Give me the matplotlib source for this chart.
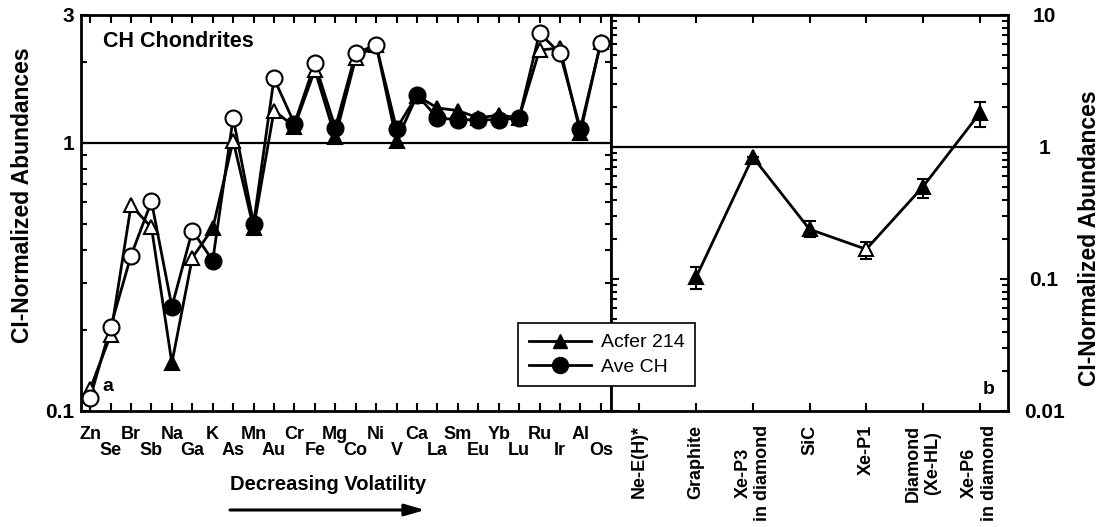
import matplotlib.pyplot as plt
import numpy as np
from matplotlib.lines import Line2D
from matplotlib.ticker import FixedLocator, NullFormatter

plt.rcParams['font.family'] = ['Liberation Sans', 'DejaVu Sans']

# panel a: CH chondrites, CI-normalized
elements = ['Zn', 'Se', 'Br', 'Sb', 'Na', 'Ga', 'K', 'As', 'Mn', 'Au', 'Cr', 'Fe', 'Mg',
            'Co', 'Ni', 'V', 'Ca', 'La', 'Sm', 'Eu', 'Yb', 'Lu', 'Ru', 'Ir', 'Al', 'Os']
acfer214 = [0.121, 0.192, 0.585, 0.484, 0.151, 0.373, 0.48, 1.02, 0.48, 1.32, 1.15, 1.87, 1.05,
            2.07, 2.32, 1.02, 1.50, 1.35, 1.32, 1.24, 1.27, 1.24, 2.22, 2.26, 1.09, 2.38]
ave_ch = [0.112, 0.206, 0.38, 0.605, 0.245, 0.471, 0.364, 1.24, 0.50, 1.74, 1.18, 1.98, 1.14,
          2.16, 2.32, 1.13, 1.51, 1.24, 1.22, 1.22, 1.22, 1.24, 2.57, 2.16, 1.13, 2.36]
filled = [0, 0, 0, 0, 1, 0, 1, 0, 1, 0, 1, 0, 1, 0, 0, 1, 1, 1, 1, 1, 1, 1, 0, 0, 1, 0]

# panel b: presolar components
components = ['Ne-E(H)*', 'Graphite', 'Xe-P3\nin diamond', 'SiC', 'Xe-P1',
              'Diamond\n(Xe-HL)', 'Xe-P6\nin diamond']
comp_val = [np.nan, 0.103, 0.84, 0.238, 0.168, 0.50, 1.80]
comp_lo = [np.nan, 0.084, 0.84, 0.207, 0.142, 0.41, 1.41]
comp_hi = [np.nan, 0.123, 0.84, 0.273, 0.19, 0.575, 2.18]
comp_filled = [1, 1, 1, 1, 0, 1, 1]

fig = plt.figure(figsize=(11.01, 5.27), dpi=100)
W, H = 1101, 527
ax1 = fig.add_axes([81 / W, 1 - 411 / H, 530 / W, 396 / H])
ax2 = fig.add_axes([611 / W, 1 - 411 / H, 397 / W, 396 / H])

x = np.arange(len(elements))
filled = np.array(filled, bool)

def draw_series(ax, xs, ys, fl, marker, ms):
    ys = np.array(ys)
    ax.plot(xs, ys, color='black', lw=2, zorder=2)
    ax.plot(xs[fl], ys[fl], ls='none', marker=marker, ms=ms, mfc='black', mec='black', mew=1.5, zorder=3)
    ax.plot(xs[~fl], ys[~fl], ls='none', marker=marker, ms=ms, mfc='white', mec='black', mew=1.5, zorder=3)

draw_series(ax1, x, acfer214, filled, '^', 10)
draw_series(ax1, x, ave_ch, filled, 'o', 11.5)
ax1.axhline(1, color='black', lw=1.6, zorder=1)

ax1.set_yscale('log')
ax1.set_ylim(0.1, 3)
ax1.set_xlim(-0.45, 25.5)
ax1.yaxis.set_major_locator(FixedLocator([0.1, 1, 3]))
ax1.yaxis.set_minor_locator(FixedLocator([0.2, 0.3, 0.4, 0.5, 0.6, 0.7, 0.8, 0.9, 2]))
ax1.yaxis.set_minor_formatter(NullFormatter())
ax1.set_yticklabels(['0.1', '1', '3'])
ax1.set_xticks(x[::2])
ax1.set_xticklabels(elements[::2])
ax1.set_xticks(x[1::2], minor=True)
ax1.set_xticklabels(elements[1::2], minor=True)
ax1.tick_params(which='both', direction='in', top=True, right=True, width=1.5)
ax1.tick_params(axis='x', which='both', labelsize=13)
ax1.tick_params(axis='y', which='both', labelsize=15, pad=5)
ax1.tick_params(axis='x', which='major', pad=11)
ax1.tick_params(axis='x', which='minor', pad=22)
ax1.tick_params(which='major', length=6)
ax1.tick_params(which='minor', length=4)
ax1.tick_params(axis='x', which='minor', length=6)
for lab in ax1.get_xticklabels(which='both') + ax1.get_yticklabels():
    lab.set_fontweight('bold')

ax1.text(0.0415, 0.934, 'CH Chondrites', transform=ax1.transAxes, fontsize=15.5,
         fontweight='bold', va='center')
ax1.text(0.051, 0.061, 'a', transform=ax1.transAxes, fontsize=14, fontweight='bold',
         va='center', ha='center')
fig.text(328 / W, 1 - 485 / H, 'Decreasing Volatility', fontsize=14.5, fontweight='bold',
         ha='center', va='center')
fig.text(23 / W, 1 - 195 / H, 'CI-Normalized Abundances', fontsize=16.5, fontweight='bold',
         ha='center', va='center', rotation=90)
fig.text(1089 / W, 1 - 238 / H, 'CI-Normalized Abundances', fontsize=16.5, fontweight='bold',
         ha='center', va='center', rotation=90)
ax1.annotate('', xy=(425 / W, 1 - 510 / H), xytext=(230 / W, 1 - 510 / H),
             xycoords='figure fraction',
             arrowprops=dict(arrowstyle='-|>,head_length=1.2,head_width=0.35', color='black',
                             lw=2.2, shrinkA=0, shrinkB=0))

# panel b
xc = np.arange(len(components))
cv = np.array(comp_val)
ax2.errorbar(xc, cv, yerr=[cv - np.array(comp_lo), np.array(comp_hi) - cv], fmt='none',
             ecolor='black', elinewidth=1.5, capsize=4, capthick=1.5, zorder=2)
draw_series(ax2, xc, cv, np.array(comp_filled, bool), '^', 10)
ax2.axhline(1, color='black', lw=1.6, zorder=1)
ax2.set_yscale('log')
ax2.set_ylim(0.01, 10)
ax2.set_xlim(-0.5, 6.5)
ax2.set_xticks(xc)
ax2.set_xticklabels(components, rotation=90, multialignment='center')
ax2.yaxis.set_ticks_position('both')
ax2.yaxis.set_major_locator(FixedLocator([0.01, 0.1, 1, 10]))
ax2.yaxis.set_minor_locator(FixedLocator([m * d for d in (0.01, 0.1, 1) for m in range(2, 10)]))
ax2.yaxis.set_minor_formatter(NullFormatter())
ax2.set_yticklabels(['0.01', '0.1', '1', '10'])
ax2.tick_params(which='both', direction='in', top=True, left=True, right=True,
                labelleft=False, labelright=True, width=1.5)
ax2.tick_params(axis='x', labelsize=13, pad=10)
ax2.tick_params(axis='y', labelsize=15, pad=26)
ax2.tick_params(which='major', length=6)
ax2.tick_params(which='minor', length=4)
for lab in ax2.get_yticklabels():
    lab.set_horizontalalignment('center')
for lab in ax2.get_xticklabels() + ax2.get_yticklabels():
    lab.set_fontweight('bold')
ax2.text(0.95, 0.054, 'b', transform=ax2.transAxes, fontsize=14, fontweight='bold',
         va='center', ha='center')

for ax in (ax1, ax2):
    for s in ax.spines.values():
        s.set_linewidth(2)

handles = [Line2D([], [], color='black', lw=2, marker='^', ms=10, mfc='black'),
           Line2D([], [], color='black', lw=2, marker='o', ms=11.5, mfc='black')]
leg = fig.legend(handles, ['Acfer 214', 'Ave CH'], loc='upper left',
                 bbox_to_anchor=(518 / W, 1 - 323 / H), fontsize=14, fancybox=False,
                 edgecolor='black', framealpha=1, handlelength=3.2, borderpad=0.55,
                 labelspacing=0.35, handletextpad=0.5, borderaxespad=0)
leg.get_frame().set_linewidth(1.2)

fig.savefig('out.png', dpi=100)
